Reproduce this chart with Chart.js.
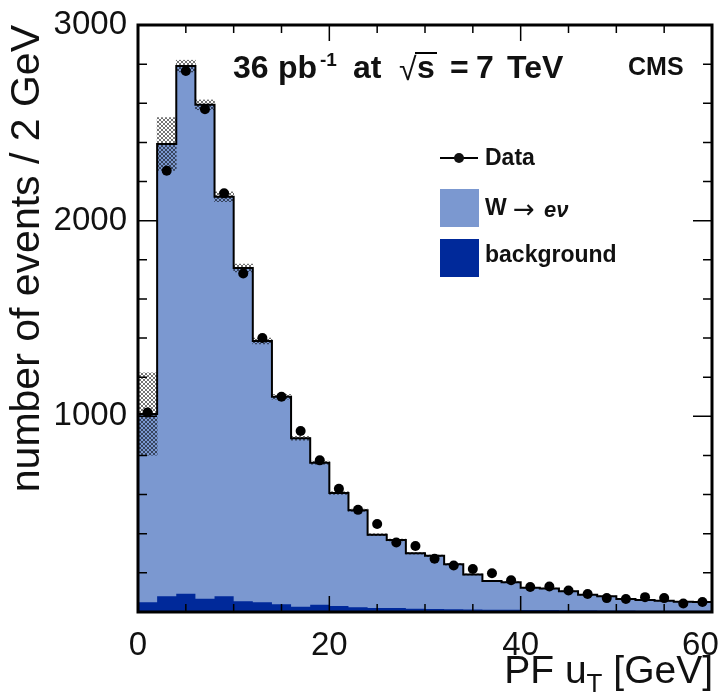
<!DOCTYPE html>
<html>
<head>
<meta charset="utf-8">
<script src="https://cdn.jsdelivr.net/npm/chart.js@4.4.1/dist/chart.umd.min.js"></script>
<style>
  html, body { margin: 0; padding: 0; background: #fff; }
  canvas { display: block; }
</style>
</head>
<body>
<canvas id="chart" width="726" height="700"></canvas>
<script>
// PF u_T distribution, 2 GeV bins
const binEdges = [0, 2, 4, 6, 8, 10, 12, 14, 16, 18, 20, 22, 24, 26, 28, 30,
                  32, 34, 36, 38, 40, 42, 44, 46, 48, 50, 52, 54, 56, 58, 60];

const dataCounts = [1020, 2255, 2765, 2570, 2140, 1730, 1400, 1100, 925, 775,
                    630, 522, 450, 355, 337, 272, 238, 220, 198, 162,
                    128, 130, 110, 92, 71, 66, 76, 71, 43, 51];

const wenuCounts = [962, 2312, 2697, 2524, 2042, 1703, 1335, 1060, 861, 726,
                    577, 496, 375, 348, 283, 272, 230, 179, 147, 141,
                    114, 110, 97, 79, 72, 58, 54, 50, 47, 45];

const bkgCounts = [50, 80, 93, 68, 80, 55, 50, 40, 27, 37,
                   31, 24, 20, 20, 17, 15, 14, 13, 12, 11,
                   10, 10, 9, 9, 8, 8, 7, 7, 6, 6];

// hatched MC uncertainty band
const mcBandErr = [210, 135, 30, 25, 25, 20, 15, 12, 10, 8,
                   7, 6, 5, 5, 4, 4, 4, 3, 3, 3,
                   2, 2, 2, 2, 2, 2, 1, 1, 1, 1];

const xTickLabels = [0, 20, 40, 60];
const yTickLabels = [1000, 2000, 3000];

const FONT = '"Liberation Sans", Arial, Helvetica, sans-serif';
const LIGHT_BLUE = '#7b98d0';
const DARK_BLUE = '#00299a';

const mcTotal = wenuCounts.map((w, i) => w + bkgCounts[i]);
const centers = binEdges.slice(0, -1).map((e, i) => (e + binEdges[i + 1]) / 2);
const stepPoints = vals => binEdges.map((e, i) => ({ x: e, y: vals[Math.min(i, vals.length - 1)] }));

const canvas = document.getElementById('chart');

function makeHatch() {
    const c = document.createElement('canvas');
    c.width = 4; c.height = 4;
    const g = c.getContext('2d');
    g.strokeStyle = 'rgba(0,0,0,0.55)';
    g.lineWidth = 1;
    g.beginPath();
    g.moveTo(0, 0); g.lineTo(4, 4);
    g.moveTo(4, 0); g.lineTo(0, 4);
    g.stroke();
    return canvas.getContext('2d').createPattern(c, 'repeat');
}

// ROOT style frame, inward ticks and in-plot texts
const rootFrame = {
    id: 'rootFrame',
    afterDraw(chart) {
        const { ctx, chartArea: a, scales: { x, y } } = chart;
        ctx.save();
        ctx.strokeStyle = '#000';
        ctx.lineWidth = 1.5;
        ctx.beginPath();
        for (let v = 0; v <= 60; v += 5) {
            const px = x.getPixelForValue(v);
            const len = v % 20 === 0 ? 16 : 8;
            ctx.moveTo(px, a.bottom); ctx.lineTo(px, a.bottom - len);
            ctx.moveTo(px, a.top); ctx.lineTo(px, a.top + len);
        }
        for (let v = 0; v <= 3000; v += 200) {
            const py = y.getPixelForValue(v);
            const len = v % 1000 === 0 ? 19 : 9;
            ctx.moveTo(a.left, py); ctx.lineTo(a.left + len, py);
            ctx.moveTo(a.right, py); ctx.lineTo(a.right - len, py);
        }
        ctx.stroke();
        ctx.lineWidth = 3;
        ctx.strokeRect(a.left, a.top, a.right - a.left, a.bottom - a.top);

        // header
        ctx.fillStyle = '#111';
        ctx.textBaseline = 'alphabetic';
        ctx.textAlign = 'left';
        ctx.font = 'bold 32px ' + FONT;
        ctx.fillText('36', 233, 78);
        ctx.fillText('pb', 278, 78);
        ctx.font = 'bold 19px ' + FONT;
        ctx.fillText('-1', 320, 66);
        ctx.font = 'bold 32px ' + FONT;
        ctx.fillText('at', 353, 78);
        ctx.font = '32px ' + FONT;
        ctx.fillText('\u221A', 399, 80);
        ctx.font = 'bold 32px ' + FONT;
        ctx.fillText('s', 417, 78);
        ctx.lineWidth = 2;
        ctx.beginPath();
        ctx.moveTo(415, 53); ctx.lineTo(437, 53);
        ctx.stroke();
        ctx.fillText('=', 450, 78);
        ctx.fillText('7', 476, 78);
        ctx.fillText('TeV', 507, 78);
        ctx.font = 'bold 25px ' + FONT;
        ctx.fillText('CMS', 628, 75);

        // legend
        ctx.lineWidth = 2;
        ctx.beginPath();
        ctx.moveTo(440, 158); ctx.lineTo(478, 158);
        ctx.stroke();
        ctx.beginPath();
        ctx.arc(459, 158, 5, 0, Math.PI * 2);
        ctx.fill();
        ctx.fillStyle = LIGHT_BLUE;
        ctx.fillRect(440, 189, 39, 38);
        ctx.fillStyle = DARK_BLUE;
        ctx.fillRect(440, 239, 39, 38);
        ctx.fillStyle = '#111';
        ctx.textBaseline = 'middle';
        ctx.font = 'bold 23px ' + FONT;
        ctx.fillText('Data', 485, 159);
        ctx.fillText('W', 485, 209);
        ctx.font = '26px DejaVu Sans, ' + FONT;
        ctx.fillText('\u2192', 513, 211);
        ctx.font = 'italic bold 22px ' + FONT;
        ctx.fillText('e\u03BD', 544, 211);
        ctx.font = 'bold 23px ' + FONT;
        ctx.fillText('background', 485, 256);

        // x title with subscript
        ctx.textBaseline = 'alphabetic';
        ctx.font = '39px ' + FONT;
        const p1 = 'PF u', p3 = ' [GeV]';
        const w1 = ctx.measureText(p1).width, w3 = ctx.measureText(p3).width;
        ctx.font = '26px ' + FONT;
        const w2 = ctx.measureText('T').width;
        let xs = 713 - (w1 + w2 + w3);
        ctx.font = '39px ' + FONT;
        ctx.fillText(p1, xs, 683);
        ctx.font = '26px ' + FONT;
        ctx.fillText('T', xs + w1, 692);
        ctx.font = '39px ' + FONT;
        ctx.fillText(p3, xs + w1 + w2, 683);
        ctx.restore();
    }
};

new Chart(canvas, {
    type: 'line',
    data: {
        datasets: [
            {
                label: 'Data',
                data: centers.map((c, i) => ({ x: c, y: dataCounts[i] })),
                showLine: false,
                pointRadius: 5,
                pointBackgroundColor: '#000',
                pointBorderWidth: 0
            },
            {
                type: 'bar',
                label: 'MC uncertainty',
                data: centers.map((c, i) => ({ x: c, y: [mcTotal[i] - mcBandErr[i], mcTotal[i] + mcBandErr[i]] })),
                backgroundColor: makeHatch(),
                borderWidth: 0,
                barPercentage: 1,
                categoryPercentage: 1,
                grouped: false
            },
            {
                label: 'background',
                data: stepPoints(bkgCounts),
                stepped: 'before',
                fill: 'origin',
                backgroundColor: DARK_BLUE,
                borderWidth: 0,
                pointRadius: 0
            },
            {
                label: 'W \u2192 e\u03BD',
                data: stepPoints(mcTotal),
                stepped: 'before',
                fill: 'origin',
                backgroundColor: LIGHT_BLUE,
                borderColor: '#000',
                borderWidth: 2,
                pointRadius: 0
            }
        ]
    },
    options: {
        responsive: false,
        animation: false,
        events: [],
        layout: { padding: { top: 25, right: 14, left: 0, bottom: 0 } },
        plugins: {
            legend: { display: false },
            tooltip: { enabled: false }
        },
        scales: {
            x: {
                type: 'linear',
                min: 0,
                max: 60,
                offset: false,
                grid: { display: false, offset: false },
                border: { display: false },
                ticks: {
                    stepSize: 20,
                    padding: 6,
                    maxRotation: 0,
                    autoSkip: false,
                    color: '#111',
                    font: { family: FONT, size: 33 },
                    // last label sits inside the canvas edge, as in the original
                    callback: v => !xTickLabels.includes(v) ? '' : (v === 60 ? '60\u2002\u2009' : String(v))
                },
                afterFit: s => { s.height = 88; s.paddingRight = 14; }
            },
            y: {
                type: 'linear',
                min: 0,
                max: 3000,
                grid: { display: false },
                border: { display: false },
                ticks: {
                    stepSize: 1000,
                    padding: 3,
                    color: '#111',
                    font: { family: FONT, size: 33 },
                    callback: v => yTickLabels.includes(v) ? String(v) : ''
                },
                title: {
                    display: true,
                    text: 'number of events / 2 GeV',
                    align: 'end',
                    color: '#111',
                    font: { family: FONT, size: 41 },
                    padding: { top: 3, bottom: 0 }
                },
                afterFit: s => { s.width = 138; }
            }
        }
    },
    plugins: [rootFrame]
});
</script>
</body>
</html>
